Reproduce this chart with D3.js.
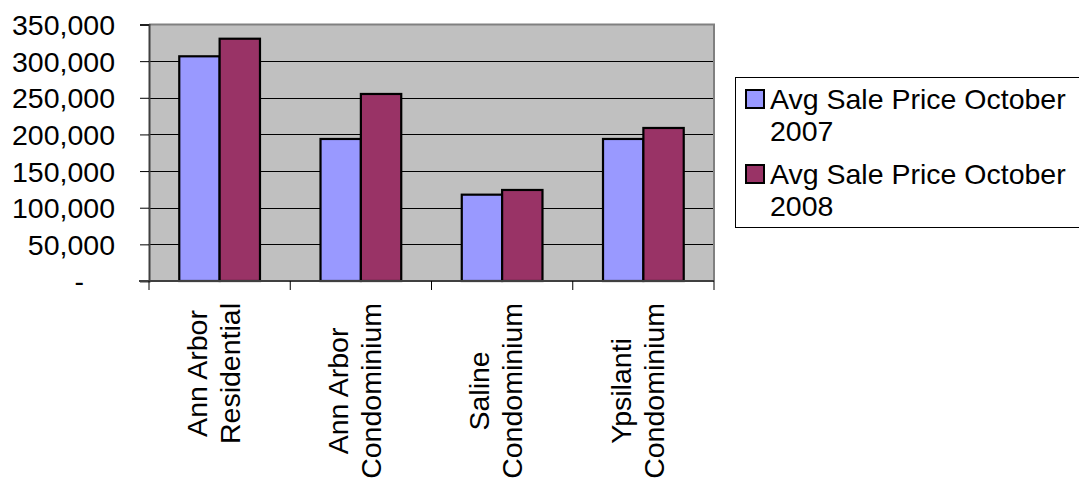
<!DOCTYPE html>
<html>
<head>
<meta charset="utf-8">
<script src="https://cdn.jsdelivr.net/npm/d3@7"></script>
<style>
  html, body { margin: 0; padding: 0; background: #fff; }
  svg { display: block; font-family: "Liberation Sans", Arial, sans-serif; }
</style>
</head>
<body>
<svg id="chart" width="1079" height="483"></svg>
<script>
// Average sale prices by market segment, October 2007 vs October 2008
const categories = [
  ["Ann Arbor", "Residential"],
  ["Ann Arbor", "Condominium"],
  ["Saline", "Condominium"],
  ["Ypsilanti", "Condominium"]
];
const seriesNames = ["Avg Sale Price October 2007", "Avg Sale Price October 2008"];
const legendLines = [["Avg Sale Price October", "2007"], ["Avg Sale Price October", "2008"]];
const values2007 = [306600, 193800, 117800, 193800];
const values2008 = [330600, 255200, 124200, 208800];
const yTicks = [0, 50000, 100000, 150000, 200000, 250000, 300000, 350000];
const colors = ["#9999FF", "#993366"];

const svg = d3.select("#chart");
const plot = { left: 149, right: 714, top: 24.5, bottom: 281 };
const fontSize = 28.5;

const x = d3.scaleBand()
  .domain(d3.range(categories.length))
  .range([plot.left, plot.right])
  .paddingInner(0).paddingOuter(0);

const y = d3.scaleLinear().domain([0, 350000]).range([plot.bottom, plot.top]);

// plot area background
svg.append("rect")
  .attr("x", plot.left).attr("y", plot.top)
  .attr("width", plot.right - plot.left).attr("height", plot.bottom - plot.top)
  .attr("fill", "#C0C0C0");

// horizontal gridlines
svg.append("g").selectAll("line")
  .data(yTicks.filter(d => d > 0 && d < 350000))
  .join("line")
  .attr("x1", plot.left).attr("x2", plot.right)
  .attr("y1", d => Math.round(y(d)) + 0.5).attr("y2", d => Math.round(y(d)) + 0.5)
  .attr("stroke", "#000").attr("stroke-width", 1);

// top and right border
svg.append("path")
  .attr("d", `M${plot.left},${plot.top} H${plot.right} V${plot.bottom}`)
  .attr("fill", "none").attr("stroke", "#808080").attr("stroke-width", 2);

// bars: two per category with Excel-like 150% gap
const data = [values2007, values2008];
const barW = x.bandwidth() / 3.5;
const gap = barW * 0.75;
const bars = svg.append("g");
data.forEach((vals, s) => {
  bars.selectAll(null)
    .data(vals)
    .join("rect")
    .attr("x", (d, i) => x(i) + gap + s * barW)
    .attr("y", d => y(d))
    .attr("width", barW)
    .attr("height", d => y(0) - y(d))
    .attr("fill", colors[s])
    .attr("stroke", "#000")
    .attr("stroke-width", 2.2);
});

// y axis
const yAxis = d3.axisLeft(y)
  .tickValues(yTicks)
  .tickSize(9)
  .tickPadding(25)
  .tickFormat(d => d === 0 ? "-" : d3.format(",")(d));
const gy = svg.append("g")
  .attr("transform", `translate(${plot.left},0)`)
  .call(yAxis);
gy.select(".domain").attr("stroke", "#404040").attr("stroke-width", 2);
gy.selectAll(".tick line").attr("stroke", "#000");
gy.selectAll(".tick text")
  .attr("font-size", fontSize)
  .attr("font-family", "Liberation Sans, Arial, sans-serif")
  .attr("fill", "#000")
  .attr("dy", "0.35em");
gy.selectAll(".tick").filter(d => d === 0).select("text").attr("x", -65);

// x axis with ticks on category boundaries
const bx = svg.append("g");
bx.append("line")
  .attr("x1", plot.left - 10).attr("x2", plot.right)
  .attr("y1", plot.bottom).attr("y2", plot.bottom)
  .attr("stroke", "#404040").attr("stroke-width", 2);
const boundaries = d3.range(categories.length + 1).map(i => plot.left + i * x.bandwidth());
bx.selectAll("line.tk")
  .data(boundaries)
  .join("line")
  .attr("class", "tk")
  .attr("x1", d => d).attr("x2", d => d)
  .attr("y1", plot.bottom).attr("y2", plot.bottom + 9)
  .attr("stroke", "#000").attr("stroke-width", 1);

// rotated category labels, centered lines, block top aligned below the axis
const labelTop = 303;
const lineGap = 33;
categories.forEach((lines, i) => {
  const cx = x(i) + x.bandwidth() / 2 - 6.5;
  const g = svg.append("g");
  const texts = lines.map((t, k) => g.append("text")
    .text(t)
    .attr("font-size", fontSize)
    .attr("fill", "#000")
    .attr("text-anchor", "middle"));
  const maxLen = d3.max(texts, t => t.node().getComputedTextLength());
  const cy = labelTop + maxLen / 2;
  const n = lines.length;
  texts.forEach((t, k) => {
    const baseX = cx + (k - (n - 1) / 2) * lineGap + 0.36 * fontSize;
    t.attr("transform", `translate(${baseX},${cy}) rotate(-90)`);
  });
});

// legend
const legend = svg.append("g");
legend.append("rect")
  .attr("x", 735.5).attr("y", 77.5)
  .attr("width", 360).attr("height", 150)
  .attr("fill", "#fff").attr("stroke", "#000").attr("stroke-width", 1);
const entryY = [90, 165];
const textY = [108.5, 183.5];
seriesNames.forEach((name, s) => {
  legend.append("rect")
    .attr("x", 746).attr("y", entryY[s])
    .attr("width", 18).attr("height", 18)
    .attr("fill", colors[s]).attr("stroke", "#000").attr("stroke-width", 2);
  legendLines[s].forEach((line, k) => {
    legend.append("text")
      .attr("x", 770)
      .attr("y", textY[s] + k * 32.3)
      .attr("font-size", fontSize)
      .attr("fill", "#000")
      .text(line);
  });
});
</script>
</body>
</html>
